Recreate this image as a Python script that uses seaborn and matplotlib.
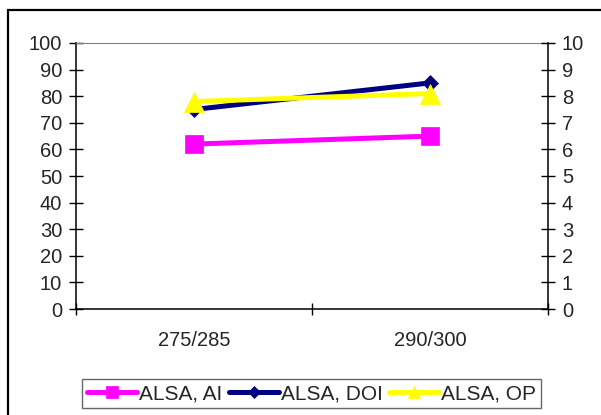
import matplotlib
matplotlib.use("Agg")
import matplotlib.pyplot as plt
import numpy as np
import pandas as pd
import seaborn as sns
from matplotlib.patches import Rectangle

# Data
categories = ["275/285", "290/300"]
alsa_ai = [62, 65]
alsa_doi = [75, 85]
alsa_op = [78, 81]
series_names = ["ALSA, AI", "ALSA, DOI", "ALSA, OP"]
left_ticks = list(range(0, 101, 10))
right_ticks = list(range(0, 11))

sns.set_style("white")
plt.rcParams["font.family"] = ["Liberation Sans", "DejaVu Sans"]

W, H = 601, 415
fig = plt.figure(figsize=(W / 100, H / 100), dpi=100)
ax = fig.add_axes([76 / W, 1 - 309 / H, (548 - 76) / W, (309 - 43) / H])

pos = np.arange(len(categories))
styles = [
    (series_names[0], alsa_ai, "#FF00FF", "s", 13),
    (series_names[1], alsa_doi, "#000080", "D", 8.5),
    (series_names[2], alsa_op, "#FFFF00", "^", 14.5),
]
for name, vals, color, marker, ms in styles:
    df = pd.DataFrame({"x": pos, "value": vals})
    sns.lineplot(data=df, x="x", y="value", ax=ax, color=color, marker=marker,
                 markersize=ms, markeredgecolor=color, markeredgewidth=0.5,
                 linewidth=3.6, label=name, legend=False)

ax.set_xlim(-0.5, 1.5)
ax.set_ylim(0, 100)
ax.set_yticks(left_ticks)
ax.set_xticks([-0.5, 0.5, 1.5])
ax.set_xticklabels([])
ax.set_xticks(pos, minor=True)
ax.set_xticklabels(categories, minor=True)
ax.set_xlabel("")
ax.set_ylabel("")

for side in ["left", "bottom"]:
    ax.spines[side].set_color("black")
    ax.spines[side].set_linewidth(1.1)
ax.spines["top"].set_color("#808080")
ax.spines["top"].set_linewidth(0.8)
ax.spines["right"].set_visible(False)

ax.tick_params(axis="y", which="major", direction="inout", length=10, width=1.0,
               color="black", labelsize=14.5, pad=5, left=True)
ax.tick_params(axis="x", which="major", direction="inout", length=9, width=1.0,
               color="black", bottom=True)
ax.tick_params(axis="x", which="minor", length=0, labelsize=14.5, pad=16)

ax2 = ax.twinx()
ax2.set_ylim(0, 10)
ax2.set_yticks(right_ticks)
for side in ["left", "top", "bottom"]:
    ax2.spines[side].set_visible(False)
ax2.spines["right"].set_color("black")
ax2.spines["right"].set_linewidth(1.1)
ax2.tick_params(axis="y", direction="inout", length=10, width=1.0, color="black",
                labelsize=14.5, pad=5, right=True)
ax2.grid(False)
ax.grid(False)

handles, labels = ax.get_legend_handles_labels()
leg = fig.legend(handles, labels, loc="center", bbox_to_anchor=(311.5 / W, 1 - 393.5 / H),
                 ncol=3, frameon=True, fancybox=False, fontsize=15,
                 handlelength=2.4, handletextpad=0.1, columnspacing=0.3,
                 borderpad=0.25, borderaxespad=0)
leg.get_frame().set_edgecolor("#404040")
leg.get_frame().set_linewidth(1.0)
for h, ms in zip(leg.legend_handles, [8, 6, 9]):
    h.set_markersize(ms)

fig.add_artist(Rectangle((8 / W, -0.1), 1.2, 1.1 - 10 / H, transform=fig.transFigure,
                         fill=False, edgecolor="black", linewidth=1.6))

fig.savefig("out.png", dpi=100)
